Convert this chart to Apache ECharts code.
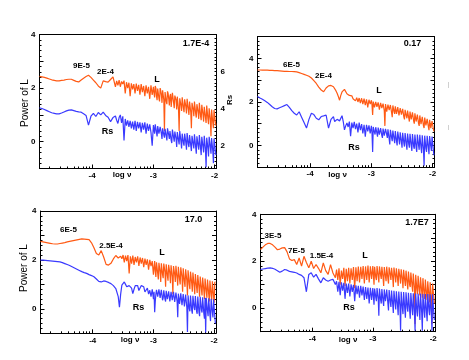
<!DOCTYPE html>
<html>
<head>
<meta charset="utf-8">
<script src="https://cdn.jsdelivr.net/npm/echarts@6/dist/echarts.min.js"></script>
<style>
  html, body { margin: 0; padding: 0; background: #fff; }
  #chart { width: 469px; height: 360px; }
</style>
</head>
<body>
<div id="chart"></div>
<script>
// log10 of frequency, shared sampling grid (coarse at low freq, finer toward -2)
var logNu = [
  -4.86,-4.82,-4.78,-4.74,-4.70,-4.66,-4.62,-4.58,-4.54,-4.50,
  -4.46,-4.42,-4.38,-4.34,-4.30,-4.26,-4.22,-4.18,-4.14,-4.10,
  -4.06,-4.02,-3.98,-3.94,-3.90,-3.86,-3.82,-3.78,-3.74,-3.70,
  -3.66,-3.62,
  -3.60,-3.58,-3.56,-3.54,-3.52,-3.50,-3.48,-3.46,-3.44,-3.42,
  -3.40,-3.38,-3.36,-3.34,-3.32,-3.30,-3.28,-3.26,-3.24,-3.22,
  -3.20,-3.18,-3.16,-3.14,-3.12,-3.10,-3.08,-3.06,-3.04,-3.02,
  -3.00,-2.99,-2.98,-2.97,-2.96,-2.95,-2.94,-2.93,-2.92,-2.91,
  -2.90,-2.89,-2.88,-2.87,-2.86,-2.85,-2.84,-2.83,-2.82,-2.81,
  -2.80,-2.79,-2.78,-2.77,-2.76,-2.75,-2.74,-2.73,-2.72,-2.71,
  -2.70,-2.69,-2.68,-2.67,-2.66,-2.65,-2.64,-2.63,-2.62,-2.61,
  -2.60,-2.59,-2.58,-2.57,-2.56,-2.55,-2.54,-2.53,-2.52,-2.51,
  -2.50,-2.49,-2.48,-2.47,-2.46,-2.45,-2.44,-2.43,-2.42,-2.41,
  -2.40,-2.39,-2.38,-2.37,-2.36,-2.35,-2.34,-2.33,-2.32,-2.31,
  -2.30,-2.29,-2.28,-2.27,-2.26,-2.25,-2.24,-2.23,-2.22,-2.21,
  -2.20,-2.19,-2.18,-2.17,-2.16,-2.15,-2.14,-2.13,-2.12,-2.11,
  -2.10,-2.09,-2.08,-2.07,-2.06,-2.05,-2.04,-2.03,-2.02,-2.01,
  -2.00,-1.99,-1.98
];

// panel 1 (1.7E-4)
var L1 = [
  2.44,2.42,2.40,2.37,2.34,2.31,2.29,2.27,2.27,2.29,
  2.30,2.32,2.33,2.33,2.29,2.25,2.23,2.30,2.37,2.43,
  2.48,2.40,2.30,2.20,2.08,2.00,2.27,2.24,2.22,2.32,
  2.42,2.05,
  2.27,2.10,2.30,2.05,2.25,2.15,2.28,1.80,2.22,2.00,
  2.20,1.70,2.18,1.95,2.15,1.80,2.17,1.90,2.12,1.75,
  2.15,1.85,2.08,1.70,2.10,1.80,2.05,1.60,2.10,1.75,
  2.05,1.80,1.65,2.08,2.00,1.70,1.55,1.98,1.95,1.62,
  1.50,2.00,1.90,1.75,1.45,1.92,1.88,1.55,0.40,1.85,
  1.85,1.50,1.40,1.88,1.80,1.60,1.35,1.70,1.78,1.30,
  1.30,1.82,1.75,1.45,1.25,1.72,1.72,1.55,1.20,1.68,
  1.70,1.20,0.40,1.62,1.65,1.35,1.15,1.66,1.60,1.25,
  1.10,1.58,1.58,1.30,1.05,1.60,1.55,1.20,1.00,1.50,
  1.52,1.10,0.50,1.45,1.48,1.20,0.95,1.50,1.45,1.05,
  0.90,1.40,1.42,1.10,0.85,1.45,1.40,0.95,0.80,1.38,
  1.35,1.00,0.75,1.30,1.32,0.90,0.70,1.35,1.28,0.85,
  0.65,1.25,1.25,0.80,0.20,1.20,1.22,0.70,0.50,1.18,
  1.20,0.75,0.60
];
var Rs1 = [
  1.26,1.24,1.20,1.16,1.12,1.08,1.06,1.04,1.04,1.07,
  1.11,1.15,1.18,1.19,1.16,1.13,1.11,1.10,1.04,0.98,
  0.62,0.95,1.06,0.94,1.09,1.00,1.10,0.98,0.91,0.75,
  0.90,0.96,
  0.80,0.68,0.90,1.00,0.70,0.95,0.05,0.85,0.60,0.80,
  0.55,0.78,0.50,0.75,0.45,0.78,0.40,0.74,0.50,0.72,
  0.35,0.70,0.45,0.72,0.30,0.68,0.40,0.65,0.35,-0.15,
  0.62,0.45,0.30,0.65,0.60,0.35,0.20,0.58,0.55,0.30,
  0.25,0.55,0.52,0.30,0.10,0.50,0.50,0.25,0.15,0.48,
  0.48,0.20,0.05,0.50,0.45,0.25,0.10,0.40,0.42,0.05,
  -0.05,0.45,0.40,0.15,0.00,0.38,0.40,0.10,-0.20,0.36,
  0.38,0.05,-0.10,0.40,0.35,0.00,-0.25,0.30,0.32,-0.05,
  -0.15,0.30,0.30,-0.05,-0.30,0.32,0.28,-0.10,-0.20,0.25,
  0.26,-0.15,-0.35,0.22,0.25,-0.10,-0.25,0.28,0.24,-0.20,
  -0.45,0.20,0.22,-0.15,-0.30,0.25,0.20,-0.25,-0.50,0.18,
  0.20,-0.20,-0.40,0.22,0.18,-0.30,-0.95,0.15,0.15,-0.25,
  -0.55,0.18,0.15,-0.20,-0.45,0.14,0.12,-0.35,-0.80,0.12,
  0.10,-0.30,-0.50
];

// panel 2 (0.17)
var L2 = [
  3.47,3.47,3.46,3.46,3.46,3.45,3.45,3.44,3.44,3.43,
  3.42,3.41,3.41,3.40,3.40,3.39,3.38,3.35,3.31,3.27,
  3.23,3.18,3.10,2.98,2.85,2.68,2.55,2.47,2.64,2.74,
  2.76,2.70,
  2.62,2.52,2.40,2.25,2.08,2.30,2.46,2.55,2.58,2.50,
  2.38,2.42,2.30,2.23,2.28,2.15,2.22,2.05,2.20,2.00,
  2.18,1.95,2.17,1.90,2.15,1.85,2.12,1.75,2.10,1.90,
  2.08,1.85,1.40,2.02,2.05,1.75,1.80,2.00,2.02,1.78,
  1.70,1.98,1.98,1.65,1.60,1.96,1.95,1.72,1.70,1.92,
  1.92,1.60,0.90,1.90,1.90,1.55,1.50,1.88,1.88,1.62,
  1.55,1.86,1.85,1.50,1.30,1.84,1.82,1.55,1.45,1.80,
  1.78,1.45,1.40,1.76,1.75,1.38,1.30,1.72,1.70,1.42,
  1.35,1.68,1.65,1.30,1.20,1.64,1.62,1.35,1.25,1.60,
  1.58,1.25,1.10,1.56,1.55,1.20,1.15,1.52,1.50,1.12,
  1.00,1.48,1.45,1.10,1.05,1.42,1.40,1.00,0.90,1.38,
  1.35,0.98,0.95,1.32,1.30,0.90,0.80,1.28,1.25,0.92,
  0.85,1.22,1.20,0.85,0.70,1.18,1.15,0.80,0.75,1.12,
  1.10,0.78,0.65
];
var Rs2 = [
  2.25,2.18,2.12,2.05,1.98,1.88,1.78,1.70,1.68,1.73,
  1.78,1.83,1.88,1.75,1.60,1.48,1.40,1.55,1.30,1.05,
  0.80,1.20,1.48,1.42,1.25,1.18,1.33,1.36,1.40,0.80,
  1.20,1.33,
  1.10,1.03,1.20,1.25,1.13,1.20,1.37,1.10,0.72,0.90,
  1.03,0.85,1.10,0.42,1.05,0.80,1.08,0.75,1.00,0.60,
  1.05,0.70,0.98,0.55,0.95,0.40,0.95,0.65,0.92,0.55,
  0.90,0.55,-0.30,0.85,0.88,0.60,0.50,0.84,0.85,0.55,
  0.40,0.82,0.82,0.50,0.45,0.80,0.80,0.45,0.35,0.78,
  0.78,0.45,0.40,0.76,0.75,0.50,0.35,0.74,0.72,0.30,
  0.05,0.72,0.70,0.35,0.20,0.68,0.68,0.30,0.10,0.66,
  0.65,0.20,0.00,0.64,0.62,0.25,0.05,0.60,0.60,0.15,
  -0.10,0.58,0.58,0.10,-0.05,0.57,0.56,0.05,-0.20,0.55,
  0.55,0.05,-0.10,0.54,0.53,0.00,-0.25,0.52,0.52,-0.05,
  -0.15,0.50,0.50,-0.10,-0.30,0.50,0.50,0.00,-0.20,0.49,
  0.48,-0.10,-0.35,0.47,0.46,-0.20,-0.93,0.45,0.45,-0.15,
  -0.30,0.44,0.44,-0.10,-0.40,0.43,0.42,-0.05,-0.25,0.41,
  0.40,-0.15,-0.45
];

// panel 3 (17.0)
var L3 = [
  2.76,2.74,2.72,2.70,2.68,2.66,2.65,2.65,2.67,2.69,
  2.71,2.74,2.76,2.78,2.80,2.82,2.84,2.86,2.85,2.84,
  2.83,2.70,2.50,2.26,2.20,2.38,2.12,1.82,1.79,1.86,
  2.04,2.18,
  2.20,2.08,2.00,2.15,2.05,2.20,1.90,2.18,1.95,2.20,
  1.45,2.15,1.85,2.18,1.80,2.12,1.90,2.15,1.75,2.10,
  1.85,2.08,1.70,2.05,1.80,2.02,1.60,2.00,1.75,1.95,
  1.40,1.70,1.95,1.55,1.30,1.90,1.92,1.45,1.20,1.88,
  1.93,1.50,1.10,1.86,1.90,1.40,1.25,1.85,1.92,1.50,
  0.90,1.82,1.88,1.35,1.15,1.80,1.85,1.45,1.05,1.78,
  1.82,1.30,0.60,1.75,1.80,1.40,1.10,1.76,1.78,1.25,
  0.95,1.72,1.75,1.20,1.00,1.70,1.70,1.30,0.70,1.66,
  1.65,1.10,0.90,1.62,1.60,1.15,0.55,1.58,1.55,1.00,
  0.80,1.52,1.50,1.05,0.70,1.48,1.45,0.95,0.60,1.42,
  1.40,0.90,0.65,1.38,1.35,0.85,0.50,1.32,1.30,0.80,
  0.55,1.28,1.25,0.75,0.40,1.24,1.22,0.70,0.45,1.20,
  1.18,0.60,0.30,1.16,1.15,0.55,0.35,1.13,1.12,0.50,
  0.25,1.10,1.08
];
var Rs3 = [
  1.99,1.99,1.98,1.97,1.96,1.95,1.94,1.93,1.92,1.89,
  1.85,1.81,1.77,1.72,1.67,1.62,1.57,1.52,1.48,1.45,
  1.40,1.36,1.31,1.22,1.12,1.10,1.14,1.12,1.08,1.03,
  0.95,0.83,
  0.80,0.50,0.07,0.60,0.97,1.02,1.10,1.00,0.90,0.83,
  0.95,1.03,0.85,0.62,0.80,0.95,1.03,0.95,0.75,0.83,
  0.95,1.03,0.90,0.69,0.72,0.85,0.60,0.76,0.50,0.80,
  0.40,0.70,-0.14,0.30,0.60,0.78,0.85,0.50,0.50,0.80,
  0.83,0.45,0.40,0.78,0.78,0.35,0.45,0.76,0.72,0.40,
  0.30,0.74,0.75,0.40,0.35,0.72,0.70,0.30,0.25,0.70,
  0.72,0.35,0.30,0.70,0.68,0.28,0.20,0.66,0.70,0.30,
  -0.34,0.62,0.65,0.20,0.25,0.63,0.62,0.15,0.10,0.60,
  0.60,0.10,0.15,0.58,0.58,0.05,-0.95,0.55,0.56,0.00,
  -0.10,0.54,0.55,-0.05,-0.20,0.53,0.54,0.05,-0.05,0.52,
  0.52,-0.10,-0.20,0.50,0.50,-0.15,-0.30,0.49,0.48,-0.05,
  -0.15,0.47,0.46,-0.20,-0.40,0.45,-0.97,0.44,0.44,-0.10,
  -0.30,0.43,0.42,-0.25,-0.50,0.41,0.40,-0.15,-0.35,0.39,
  0.38,-0.30,-0.60
];

// panel 4 (1.7E7)
var L4 = [
  2.50,2.60,2.70,2.76,2.76,2.70,2.60,2.49,2.52,2.57,
  2.58,2.40,2.10,2.03,2.07,1.86,2.14,1.79,2.21,1.95,
  1.72,2.00,1.69,1.86,1.70,1.51,1.93,1.60,1.44,1.86,
  1.50,1.30,
  1.65,1.20,1.70,1.00,1.60,1.25,1.72,0.95,1.68,1.15,
  1.72,1.05,1.70,1.20,1.75,0.85,1.74,1.15,1.78,1.10,
  1.76,1.25,1.80,1.05,1.78,1.20,1.82,1.10,1.79,1.25,
  1.80,1.40,1.00,1.76,1.78,1.30,1.20,1.80,1.82,1.35,
  1.10,1.78,1.79,1.40,1.25,1.76,1.80,1.30,0.95,1.75,
  1.78,1.35,1.15,1.77,1.76,1.25,1.05,1.74,1.75,1.40,
  1.20,1.72,1.74,1.30,0.90,1.73,1.72,1.35,1.10,1.70,
  1.70,1.25,0.95,1.68,1.68,1.30,1.05,1.66,1.66,1.20,
  0.85,1.64,1.62,1.15,0.95,1.60,1.58,1.05,0.80,1.56,
  1.55,1.00,0.90,1.52,1.50,0.95,0.70,1.48,1.45,0.85,
  -0.67,1.42,1.40,0.80,0.60,1.38,1.35,0.75,0.55,1.32,
  1.30,0.70,0.45,1.28,1.25,0.60,0.40,1.22,1.20,0.55,
  0.35,1.15,1.12,0.50,0.25,1.10,1.08,0.40,-0.67,1.05,
  1.02,0.45,0.20
];
var Rs4 = [
  1.65,1.67,1.69,1.71,1.72,1.70,1.66,1.60,1.53,1.58,
  1.65,1.62,1.57,1.55,1.53,1.50,1.44,1.40,1.30,0.70,
  1.44,1.51,1.32,1.44,1.25,1.08,1.30,1.20,1.15,1.20,
  1.23,1.01,
  1.15,0.70,1.12,0.55,1.10,0.75,1.08,0.40,1.05,0.65,
  1.05,0.50,1.02,0.70,1.00,0.30,0.98,0.60,0.95,0.45,
  0.95,0.55,0.92,0.35,0.90,0.40,0.88,0.20,0.87,0.35,
  0.86,0.50,0.15,0.84,0.85,0.45,0.30,0.86,0.85,0.40,
  -0.32,0.84,0.84,0.35,0.20,0.82,0.82,0.30,0.10,0.80,
  0.80,0.30,0.25,0.79,0.78,0.20,-0.10,0.77,0.76,0.25,
  0.05,0.75,0.74,0.15,-0.20,0.74,0.73,0.20,-0.05,0.72,
  0.72,0.10,-0.30,0.71,0.70,0.05,-0.96,0.70,0.70,0.00,
  -0.25,0.69,0.68,-0.05,-0.40,0.68,0.67,0.00,-0.15,0.66,
  0.66,-0.10,-0.45,0.65,0.65,-0.05,-0.30,0.64,0.64,-0.20,
  -0.96,0.63,0.63,-0.15,-0.35,0.62,0.62,-0.10,-0.50,0.62,
  0.62,-0.20,-0.96,0.61,0.61,-0.15,-0.40,0.60,0.60,-0.20,
  -0.55,0.60,0.60,-0.10,-0.30,0.59,0.60,-0.25,-0.96,0.59,
  0.58,-0.20,-0.50
];

var xMajorTicks = [-4, -3, -2];
var xMinorTicks = [-4.70,-4.52,-4.40,-4.30,-4.22,-4.15,-4.10,-4.05,
                   -3.70,-3.52,-3.40,-3.30,-3.22,-3.15,-3.10,-3.05,
                   -2.70,-2.52,-2.40,-2.30,-2.22,-2.15,-2.10,-2.05];
var panelTitles = ['1.7E-4', '0.17', '17.0', '1.7E7'];

var FONT = '"Liberation Sans", Arial, sans-serif';
var ORANGE = '#ff5a14';
var BLUE = '#3a3aff';

var panels = [
  {grid: {left: 39.5, top: 34.5, width: 177, height: 134}, yMax: 4, L: L1, Rs: Rs1, rsAxis: true},
  {grid: {left: 257.5, top: 36.7, width: 177, height: 130.5}, yMax: 5, L: L2, Rs: Rs2, rsAxis: false},
  {grid: {left: 40.5, top: 211, width: 175.5, height: 122.3}, yMax: 4, L: L3, Rs: Rs3, rsAxis: false},
  {grid: {left: 260.5, top: 214.3, width: 174.5, height: 117.4}, yMax: 4, L: L4, Rs: Rs4, rsAxis: false}
];

var axisLine = {show: true, onZero: false, lineStyle: {color: '#000', width: 1}};
var tickLabel = {color: '#000', fontSize: 8, fontWeight: 'bold', fontFamily: FONT};

var grids = [], xAxes = [], yAxes = [], series = [];

panels.forEach(function (p, i) {
  grids.push(p.grid);
  // bottom axis: major ticks + labels
  xAxes.push({
    type: 'value', gridIndex: i, position: 'bottom', min: -4.86, max: -1.97,
    axisLine: axisLine, splitLine: {show: false},
    axisTick: {show: true, inside: true, length: 4, customValues: xMajorTicks, lineStyle: {color: '#000'}},
    axisLabel: Object.assign({margin: 3, customValues: xMajorTicks}, tickLabel)
  });
  // bottom axis: log-spaced minor ticks
  xAxes.push({
    type: 'value', gridIndex: i, position: 'bottom', min: -4.86, max: -1.97,
    axisLine: {show: false, onZero: false}, splitLine: {show: false}, axisLabel: {show: false},
    axisTick: {show: true, inside: true, length: 2, customValues: xMinorTicks, lineStyle: {color: '#000'}}
  });
  // top frame
  xAxes.push({
    type: 'value', gridIndex: i, position: 'top', min: -4.86, max: -1.97,
    axisLine: axisLine, axisTick: {show: false}, axisLabel: {show: false}, splitLine: {show: false}
  });
  yAxes.push({
    type: 'value', gridIndex: i, position: 'left', min: -1, max: p.yMax, interval: 1,
    axisLine: axisLine, splitLine: {show: false},
    axisTick: {show: true, inside: true, length: 4, lineStyle: {color: '#000'}},
    minorTick: {show: true, splitNumber: 5, length: 2, lineStyle: {color: '#000'}},
    axisLabel: Object.assign({margin: 4, formatter: function (v) {
      return (v >= 0 && Math.round(v) % 2 === 0) ? String(v) : '';
    }}, tickLabel)
  });
  if (p.rsAxis) {
    yAxes.push({
      type: 'value', gridIndex: i, position: 'right', min: 0.8, max: 8, interval: 0.2,
      axisLine: axisLine, splitLine: {show: false},
      axisTick: {show: true, inside: true, length: 2, lineStyle: {color: '#000'}},
      axisLabel: Object.assign({margin: 4, formatter: function (v) {
        var r = Math.round(v * 10) / 10;
        return (r === 2 || r === 4 || r === 6) ? String(r) : '';
      }}, tickLabel)
    });
  } else {
    yAxes.push({
      type: 'value', gridIndex: i, position: 'right', min: -1, max: p.yMax, interval: 1,
      axisLine: axisLine, splitLine: {show: false}, axisLabel: {show: false},
      axisTick: {show: true, inside: true, length: 4, lineStyle: {color: '#000'}},
      minorTick: {show: true, splitNumber: 5, length: 2, lineStyle: {color: '#000'}}
    });
  }
  series.push({
    type: 'line', name: 'L', xAxisIndex: i * 3, yAxisIndex: i * 2,
    showSymbol: false, symbol: 'none', clip: true,
    lineStyle: {color: ORANGE, width: 1.2},
    data: logNu.map(function (x, k) { return [x, p.L[k]]; })
  });
  series.push({
    type: 'line', name: 'Rs', xAxisIndex: i * 3, yAxisIndex: i * 2,
    showSymbol: false, symbol: 'none', clip: true,
    lineStyle: {color: BLUE, width: 1.2},
    data: logNu.map(function (x, k) { return [x, p.Rs[k]]; })
  });
});

function txt(s, x, y, size, weight, rot) {
  return {
    type: 'text', x: x, y: y, rotation: rot || 0, z: 10,
    style: {text: s, fontSize: size, fontWeight: weight || 'bold', fontFamily: FONT,
            fill: '#000', align: 'center', verticalAlign: 'middle'}
  };
}

var graphic = [
  // panel 1
  txt(panelTitles[0], 196, 43.5, 9),
  txt('9E-5', 81.5, 66, 8),
  txt('2E-4', 105.5, 71.5, 8),
  txt('L', 157, 79.5, 9),
  txt('Rs', 107.5, 131.5, 9),
  txt('log \u03bd', 122, 174.5, 8),
  txt('Power of L', 25, 103, 10, 'normal', Math.PI / 2),
  txt('Rs', 230, 100, 8, 'bold', Math.PI / 2),
  // panel 2
  txt(panelTitles[1], 412.5, 43.5, 9),
  txt('6E-5', 291.5, 64.5, 8),
  txt('2E-4', 323.5, 75.5, 8),
  txt('L', 379, 90.5, 9),
  txt('Rs', 354, 147.5, 9),
  txt('log \u03bd', 337.5, 174.5, 8),
  // panel 3
  txt(panelTitles[2], 193.5, 219.5, 9),
  txt('6E-5', 68.5, 229.5, 8),
  txt('2.5E-4', 111, 246, 8),
  txt('L', 162, 252.5, 9),
  txt('Rs', 138.5, 307.5, 9),
  txt('log \u03bd', 130, 340, 8),
  txt('Power of L', 24, 268, 10, 'normal', Math.PI / 2),
  // panel 4
  txt(panelTitles[3], 417, 222.5, 9),
  txt('3E-5', 273, 235.5, 8),
  txt('7E-5', 296.5, 251, 8),
  txt('1.5E-4', 321.5, 256, 8),
  txt('L', 365, 255.5, 9),
  txt('Rs', 349, 307.5, 9),
  txt('log \u03bd', 348, 339.5, 8),
  // faint marks right of panel 2
  {type: 'line', shape: {x1: 448.5, y1: 82, x2: 448.5, y2: 88}, style: {stroke: '#d0d0d0', lineWidth: 1}},
  {type: 'line', shape: {x1: 448.5, y1: 125, x2: 448.5, y2: 130}, style: {stroke: '#d0d0d0', lineWidth: 1}}
];

var chart = echarts.init(document.getElementById('chart'), null, {renderer: 'canvas'});
chart.setOption({
  animation: false,
  backgroundColor: '#fff',
  grid: grids,
  xAxis: xAxes,
  yAxis: yAxes,
  series: series,
  graphic: graphic
});
</script>
</body>
</html>
